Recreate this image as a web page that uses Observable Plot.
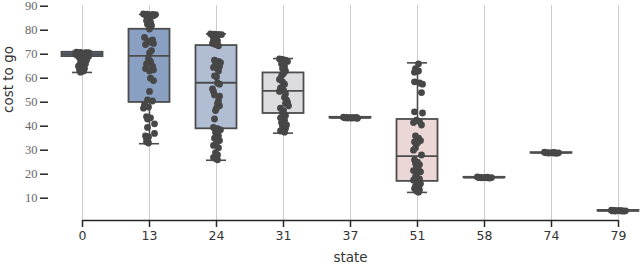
<!DOCTYPE html>
<html><head><meta charset="utf-8">
<script src="https://cdn.jsdelivr.net/npm/d3@7"></script>
<script src="https://cdn.jsdelivr.net/npm/@observablehq/plot@0.6"></script>
<style>body{margin:0;overflow:hidden;background:#fff}#c{width:640px;height:265px;overflow:hidden}
.yserif text{font-family:"Liberation Serif",serif !important}</style>
</head><body><div id="c"></div><script>
// categories
const states = ["0","13","24","31","37","51","58","74","79"];
const boxFill = ["#5f7aa8","#8aa0c2","#b1bdd2","#dcdcdf","#e8e6e6","#ebd7d6","#e2bcba","#d49a98","#c07a76"];
// box statistics (lower whisker, q1, median, q3, upper whisker)
const whiskLo = [62.4, 32.7, 25.8, 37.1, 43.2, 12.4, 18.3, 28.6, 4.4];
const q1      = [69.0, 49.9, 38.9, 45.3, 43.4, 17.0, 18.5, 28.8, 4.6];
const median  = [70.0, 69.3, 58.1, 54.7, 43.5, 27.5, 18.6, 28.9, 4.75];
const q3      = [70.8, 80.4, 73.6, 62.2, 43.7, 42.8, 18.7, 29.0, 4.9];
const whiskHi = [71.2, 86.6, 78.5, 68.2, 43.9, 66.4, 19.0, 29.2, 5.1];
const yTicks = [10,20,30,40,50,60,70,80,90];
const yDomain = [0.7, 90.3];
// strip points: [cost, horizontal jitter in px]
const pts0 = [[70.9,-6],[70.8,-2],[70.7,3],[70.6,6],[70.5,-4],[70.3,1],[70.2,5],[70,-7],[69.9,-1],[69.8,3],[69.5,-5],[69.3,2],[69,6],[68.5,-3],[68,1],[67.5,4],[66.5,-2],[66,3],[65,-4],[64.5,-1],[64,2],[63.5,-3],[63,1],[62.5,-2]];
const pts13 = [[86.8,-6],[86.7,-2],[86.6,3],[86.5,6],[86.3,-4],[86.2,1],[86,4],[85.5,-1],[84,-3],[83.5,1],[82.5,-2],[82,2],[80.5,0],[77,-5],[76,3],[75.5,-2],[75,1],[74.5,4],[74,-4],[71.5,2],[70.5,0],[68,-1],[67,1],[66,-3],[65,3],[64,-4],[63.5,4],[63,0],[60,1],[59,4],[54.5,0],[51,-2],[50.5,3],[49,-5],[48,-1],[47.5,-6],[44,-3],[43.5,1],[43,-2],[41,5],[39.5,-2],[37,5],[36,-4],[35.5,-1],[35,-3],[33.5,-3],[33,-1]];
const pts24 = [[78.5,-6],[78.4,-2],[78.3,2],[78.2,5],[77.8,-4],[77.5,0],[76,-3],[75.5,1],[74.5,-4],[74,-1],[73.5,2],[67.5,-2],[67,2],[66.5,4],[65.5,-1],[65,3],[64.5,-3],[64,1],[63,2],[61,-2],[60.5,0],[58,1],[57.5,3],[55.5,-4],[54.5,-3],[53,-2],[52.5,3],[50.5,2],[49.5,1],[48.5,3],[47.5,0],[46.5,-1],[43,-2],[39.5,-3],[39,1],[38.5,4],[37.5,-1],[36,2],[35,-2],[34,3],[33,0],[32,-3],[31,2],[29,-1],[28,1],[27,-3],[26.5,-1],[26,1]];
const pts31 = [[68,-4],[67.8,-1],[67.5,2],[67,4],[66,-2],[65,1],[64,-1],[63,2],[62,0],[61,-2],[59.5,-4],[58.5,-1],[57.5,1],[56,-3],[55,0],[54.5,-4],[53.5,2],[52,1],[51,3],[50,4],[49.5,2],[48.5,5],[47.5,-3],[46.5,0],[45.5,-1],[44.5,2],[43.5,-3],[42.5,1],[41.5,-2],[40.5,3],[40,-1],[39,2],[38,-3],[37.5,1]];
const pts37 = [[43.8,-7],[43.7,-4],[43.6,-1],[43.5,2],[43.4,5],[43.3,7],[43.6,3],[43.4,-3],[43.5,-6],[43.7,6],[43.5,0],[43.4,1]];
const pts51 = [[66,1],[64,-2],[63,1],[62.5,-3],[58.5,-3],[58,2],[57.5,5],[54,4],[46,-3],[45.5,5],[42.5,-1],[42,2],[41.5,-4],[40.5,4],[36,-2],[35,1],[34,3],[33.5,-3],[33,0],[31,-2],[30,-4],[28,4],[26,-3],[25,0],[24.5,-2],[24,2],[23,-1],[22,1],[21.5,-4],[21,3],[20.5,0],[19,-2],[18,2],[17.5,-4],[17,0],[16,3],[15,-2],[14.5,1],[14,-3],[13.5,2],[13,-1],[12.5,1]];
const pts58 = [[18.9,-7],[18.7,-4],[18.6,-1],[18.5,2],[18.4,5],[18.6,7],[18.8,3],[18.5,-3],[18.6,-6],[18.7,1]];
const pts74 = [[29.2,-7],[29.0,-4],[28.9,-1],[28.8,2],[28.7,5],[28.9,7],[29.1,3],[28.8,-3],[28.9,-6],[29.0,1]];
const pts79 = [[5.0,-7],[4.9,-4],[4.8,-1],[4.7,2],[4.6,5],[4.75,7],[4.85,3],[4.65,-3],[4.7,-6],[4.8,1]];
const pointSets = [pts0, pts13, pts24, pts31, pts37, pts51, pts58, pts74, pts79];

const step = 67; // px per category, for converting jitter
const idx = states.map((s, i) => i);
const stats = idx.map(i => ({i, lo: whiskLo[i], q1: q1[i], med: median[i], q3: q3[i], hi: whiskHi[i], fill: boxFill[i]}));
const points = pointSets.flatMap((ps, i) => ps.map(([v, o]) => ({i, v, o})));
const boxHalf = 0.306, capHalf = 0.15;
const edge = "#4d4d4d";

const plot = Plot.plot({
  width: 640, height: 265,
  marginTop: 5, marginBottom: 45, marginLeft: 48, marginRight: 0,
  style: {background: "#fff", overflow: "hidden"},
  x: {type: "linear", domain: [-0.5, states.length - 0.5], range: [48.5, 651.5]},
  y: {domain: yDomain},
  marks: [
    Plot.ruleX(idx, {x: d => d, stroke: "#cccccc", strokeWidth: 1}),
    Plot.ruleY([yDomain[0]], {x1: 0, x2: states.length - 1, stroke: "#262626", strokeWidth: 1.6}),
    Plot.axisX({ticks: idx, tickFormat: i => states[i], tickSize: 7, tickPadding: 4, fontSize: 12.5,
      fontFamily: "DejaVu Sans", fill: "#333", stroke: "#262626", strokeWidth: 1.5, label: null}),
    Plot.axisY({ticks: yTicks, tickSize: 8, tickPadding: 3, fontSize: 12.5, fontFamily: "Liberation Serif",
      fill: "#666", stroke: "#262626", strokeWidth: 1.5, label: null, className: "yserif"}),
    Plot.ruleX(stats, {x: "i", y1: "lo", y2: "hi", stroke: edge, strokeWidth: 1.6}),
    Plot.rectY(stats, {x1: d => d.i - boxHalf, x2: d => d.i + boxHalf, y1: "q1", y2: "q3", fill: "fill", stroke: edge, strokeWidth: 1.8}),
    Plot.ruleY(stats, {y: "med", x1: d => d.i - boxHalf, x2: d => d.i + boxHalf, stroke: edge, strokeWidth: 1.8}),
    Plot.ruleY(stats, {y: "lo", x1: d => d.i - capHalf, x2: d => d.i + capHalf, stroke: edge, strokeWidth: 1.6}),
    Plot.ruleY(stats, {y: "hi", x1: d => d.i - capHalf, x2: d => d.i + capHalf, stroke: edge, strokeWidth: 1.6}),
    Plot.dot(points, {x: d => d.i + d.o / step, y: "v", r: 3.4, fill: "#474747"}),
    Plot.text(["state"], {x: (states.length - 1) / 2, frameAnchor: "bottom", dy: 37, lineAnchor: "middle",
      fontSize: 13.5, fontFamily: "DejaVu Sans", fill: "#333"}),
    Plot.text(["cost to go"], {frameAnchor: "left", dx: -40, rotate: -90, lineAnchor: "middle",
      fontSize: 13.5, fontFamily: "DejaVu Sans", fill: "#333"})
  ]
});
const svgNode = plot.tagName.toLowerCase() === "svg" ? plot : plot.querySelector("svg");
svgNode.querySelectorAll("text").forEach(t => {
  if (/^\d+$/.test(t.textContent) && t.closest("g") && t.closest("g").getAttribute("text-anchor") === "end") {
    t.style.setProperty("font-family", "'Liberation Serif', serif", "important");
  }
});
document.getElementById("c").appendChild(plot);
</script></body></html>
